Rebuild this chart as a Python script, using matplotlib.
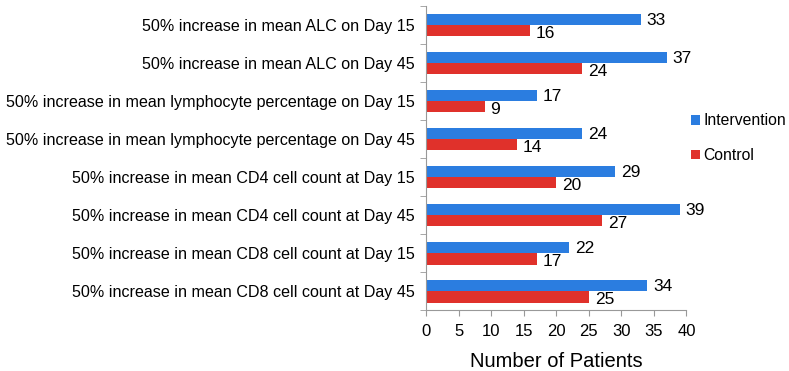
import matplotlib.pyplot as plt
import numpy as np

plt.rcParams['font.family'] = ['Liberation Sans', 'DejaVu Sans']

categories = [
    "50% increase in mean ALC on Day 15",
    "50% increase in mean ALC on Day 45",
    "50% increase in mean lymphocyte percentage on Day 15",
    "50% increase in mean lymphocyte percentage on Day 45",
    "50% increase in mean CD4 cell count at Day 15",
    "50% increase in mean CD4 cell count at Day 45",
    "50% increase in mean CD8 cell count at Day 15",
    "50% increase in mean CD8 cell count at Day 45",
]
intervention = [33, 37, 17, 24, 29, 39, 22, 34]
control = [16, 24, 9, 14, 20, 27, 17, 25]

blue = "#2b7de0"
red = "#e0312b"
grey = "#999999"

fig = plt.figure(figsize=(7.89, 3.71), dpi=100)
ax = fig.add_axes([0.540, 0.164, 0.330, 0.820])

y = np.arange(len(categories))
h = 0.30
ax.barh(y - h / 2, intervention, height=h, color=blue, label="Intervention")
ax.barh(y + h / 2, control, height=h, color=red, label="Control")

for yi, v in zip(y, intervention):
    ax.text(v + 0.9, yi - h / 2 + 0.03, str(v), va="center", ha="left", fontsize=12.5)
for yi, v in zip(y, control):
    ax.text(v + 0.9, yi + h / 2 + 0.08, str(v), va="center", ha="left", fontsize=12.5)

ax.set_ylim(len(categories) - 0.5, -0.5)
ax.set_xlim(0, 40)
ax.set_xticks(range(0, 41, 5))
ax.set_yticks(y)
ax.set_yticklabels(categories, fontsize=11.6)
ax.tick_params(axis="y", length=0, pad=8)
# category boundary ticks on the y axis
ax.set_yticks(np.arange(-0.5, len(categories), 1), minor=True)
ax.tick_params(axis="y", which="minor", length=4, color=grey, direction="out")
ax.tick_params(axis="x", labelsize=12, length=4, color=grey, pad=6)

for s in ["top", "right"]:
    ax.spines[s].set_visible(False)
for s in ["left", "bottom"]:
    ax.spines[s].set_color(grey)

ax.set_xlabel("Number of Patients", fontsize=14.5, labelpad=9)

ax.legend(loc="center left", bbox_to_anchor=(1.018, 0.565), frameon=False,
          fontsize=11.3, handlelength=0.55, handleheight=0.55, handletextpad=0.25,
          labelspacing=1.25, borderaxespad=0, borderpad=0)

fig.savefig("out.png", dpi=100)
